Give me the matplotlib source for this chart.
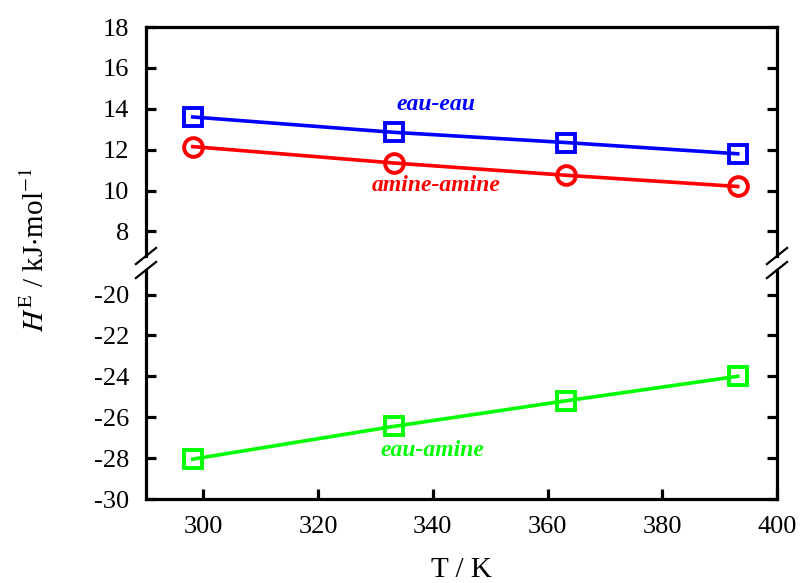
import matplotlib
matplotlib.use("Agg")
import matplotlib.pyplot as plt

T = [298.15, 333.15, 363.15, 393.15]
eau_eau = [13.6, 12.85, 12.35, 11.8]
amine_amine = [12.15, 11.35, 10.75, 10.2]
eau_amine = [-28.05, -26.45, -25.2, -24.0]

x_ticks = [300, 320, 340, 360, 380, 400]
top_ticks = [8, 10, 12, 14, 16, 18]
bot_ticks = [-30, -28, -26, -24, -22, -20]

plt.rcParams['font.family'] = ['Liberation Serif', 'DejaVu Serif']
plt.rcParams['mathtext.fontset'] = 'stix'

fig = plt.figure(figsize=(8.05, 5.83), dpi=100)
L, R = 146/805, 777/805
ax1 = fig.add_axes([L, 1-256/583, R-L, (256-27)/583])
ax2 = fig.add_axes([L, 1-499/583, R-L, (499-270)/583])

lw = 2.6
ax1.plot(T, eau_eau, color='#0000ff', lw=lw, marker='s', ms=13.5, mfc='none', mew=2.8)
ax1.plot(T, amine_amine, color='#ff0000', lw=lw, marker='o', ms=13.5, mfc='none', mew=2.8)
ax2.plot(T, eau_amine, color='#00ff00', lw=lw, marker='s', ms=13.5, mfc='none', mew=2.8)

ax1.set_ylim(6.8, 18)
ax2.set_ylim(-30, -18.8)
for ax in (ax1, ax2):
    ax.set_xlim(290, 400)
    ax.set_xticks(x_ticks)
    for s in ax.spines.values():
        s.set_linewidth(2.3)
    ax.tick_params(direction='in', width=2.3, length=7, labelsize=19,
                   right=True, top=False, pad=12)
ax1.set_yticks(top_ticks)
ax2.set_yticks(bot_ticks)
ax2.set_yticklabels([str(v) for v in bot_ticks])
ax1.spines['bottom'].set_visible(False)
ax2.spines['top'].set_visible(False)
ax1.tick_params(bottom=False, labelbottom=False)

# break marks
d = 0.016
kw = dict(color='k', lw=1.6, clip_on=False)
for ax, y0 in ((ax1, 0), (ax2, 1)):
    for x0 in (0, 1):
        ax.plot([x0 - d, x0 + d], [y0 - d*2.2, y0 + d*2.2],
                transform=ax.transAxes, **kw)

ax1.text(340.6, 14.2, 'eau-eau', color='#0000ff', fontsize=17,
         fontweight='bold', fontstyle='italic', ha='center', va='center')
ax1.text(340.6, 10.25, 'amine-amine', color='#ff0000', fontsize=17,
         fontweight='bold', fontstyle='italic', ha='center', va='center')
ax2.text(340.0, -27.65, 'eau-amine', color='#00ff00', fontsize=17,
         fontweight='bold', fontstyle='italic', ha='center', va='center')

ax2.set_xlabel('T / K', fontsize=21, labelpad=14)
fig.text(0.045, 0.572, r'$H^{\mathrm{E}}$ / kJ$\cdot$mol$^{-1}$', rotation=90,
         fontsize=21, ha='center', va='center')

fig.savefig('out.png', dpi=100)
